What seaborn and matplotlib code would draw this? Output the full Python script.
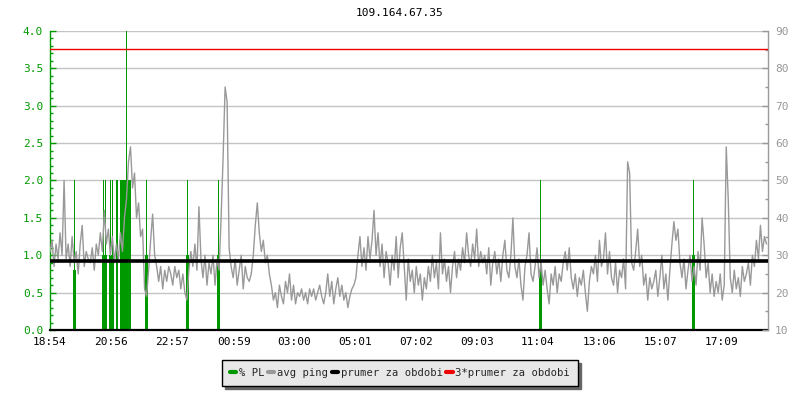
import numpy as np
import pandas as pd
import matplotlib
matplotlib.use("Agg")
import matplotlib.pyplot as plt
import seaborn as sns
from matplotlib.ticker import MultipleLocator, FormatStrFormatter
from matplotlib.lines import Line2D

# ---------------- data ----------------
title = "109.164.67.35"
tick_minutes = [0, 122, 243, 365, 486, 607, 728, 849, 970, 1092, 1213, 1335]
tick_labels = ["18:54", "20:56", "22:57", "00:59", "03:00", "05:01",
               "07:02", "09:03", "11:04", "13:06", "15:07", "17:09"]
x_end_minutes = 1427
sample_step_min = 4

# average ping in ms (right axis), one sample every 4 minutes from 18:54
avg_ping = [
    31, 34, 27, 33, 29, 36, 30, 50, 29, 33,
    27, 35, 28, 31, 25, 33, 38, 27, 31, 29,
    28, 32, 26, 33, 30, 36, 31, 42, 33, 37,
    30, 35, 28, 33, 29, 36, 31, 40, 45, 55,
    59, 48, 52, 40, 44, 35, 37, 21, 19, 26,
    34, 41, 30, 27, 23, 27, 21, 26, 23, 27,
    25, 22, 27, 24, 26, 21, 25, 20, 18, 26,
    31, 27, 33, 26, 43, 29, 24, 30, 22, 28,
    25, 30, 22, 29, 26, 40, 56, 75, 71, 32,
    27, 24, 29, 22, 26, 30, 21, 27, 24, 23,
    25, 30, 38, 44, 36, 31, 34, 28, 30, 25,
    22, 18, 20, 16, 22, 19, 17, 23, 20, 25,
    18, 22, 17, 20, 19, 21, 18, 20, 17, 21,
    19, 21, 18, 20, 22, 19, 17, 20, 25, 19,
    23, 17, 21, 24, 19, 22, 18, 20, 16, 19,
    21, 22, 24, 30, 35, 27, 32, 26, 35, 29,
    34, 42, 30, 36, 27, 33, 24, 31, 28, 22,
    30, 26, 35, 24, 32, 36, 27, 18, 29, 23,
    26, 20, 27, 22, 25, 18, 24, 21, 27, 23,
    30, 24, 28, 21, 36, 25, 29, 23, 27, 20,
    27, 31, 24, 29, 26, 32, 28, 36, 30, 27,
    33, 29, 37, 27, 31, 28, 30, 25, 32, 22,
    28, 31, 25, 29, 23, 30, 34, 26, 24, 30,
    40, 27, 24, 29, 22, 18, 27, 30, 36, 25,
    23, 27, 32, 24, 28, 22, 26, 21, 17, 25,
    22, 27, 20, 25, 23, 28, 31, 26, 32, 24,
    21, 25, 19, 24, 22, 26, 20, 15, 23, 27,
    25, 30, 23, 34, 27, 29, 36, 25, 31, 24,
    22, 28, 20, 26, 24, 29, 21, 55, 52, 28,
    26, 31, 37, 27, 30, 22, 25, 18, 24, 21,
    23, 26, 19, 24, 30, 21, 25, 18, 26, 33,
    39, 34, 37, 28, 24, 29, 21, 26, 30, 23,
    27, 22, 31, 26, 40, 33, 24, 28, 20, 25,
    19, 23, 20, 25, 18, 22, 59, 45, 24, 20,
    26, 21, 24, 19, 27, 23, 25, 28, 22, 30,
    27, 34, 29, 38, 31, 35, 33,
]

# packet loss (% PL, left axis): minutes since 18:54 and value
pl_minutes = [47, 49, 51,
              105, 107, 109, 111, 113,
              119, 121, 123, 125, 127,
              133, 135,
              141, 143, 145, 147, 149, 151, 153, 155, 157, 159,
              189, 191, 193,
              272, 274, 276,
              332, 334, 336,
              972, 974, 976,
              1276, 1278, 1280]
pl_values = [0.8, 2.0, 0.8,
             1.0, 2.0, 1.0, 2.0, 1.0,
             1.0, 2.0, 1.0, 2.0, 1.0,
             2.0, 2.0,
             2.0, 2.0, 2.0, 2.0, 2.0, 2.0, 4.0, 2.0, 2.0, 2.0,
             1.0, 2.0, 1.0,
             1.0, 2.0, 1.0,
             1.0, 2.0, 1.0,
             0.8, 2.0, 0.8,
             1.0, 2.0, 1.0]

mean_ping = 28.4          # "prumer za obdobi"
legend_labels = ["% PL", "avg ping", "prumer za obdobi", "3*prumer za obdobi"]

# ---------------- style ----------------
GREEN = "#009900"
GRAY = "#999999"
RED = "#ee0000"

sns.set_style("white")
plt.rcParams['font.family'] = ['DejaVu Sans Mono', 'DejaVu Sans']
FS = 8

ping_df = pd.DataFrame({
    "minute": np.arange(len(avg_ping)) * sample_step_min,
    "ping": avg_ping,
})

fig = plt.figure(figsize=(8, 4), dpi=100)
ax = fig.add_axes([50 / 800, 1 - 330 / 400, 718 / 800, 299 / 400])
ax2 = ax.twinx()

# grid on left axis
ax.set_axisbelow(True)
ax.yaxis.grid(True, color="#c4c4c4", linewidth=1)
ax.xaxis.grid(False)

# packet loss bars
ax.bar(pl_minutes, pl_values, width=2.0, color=GREEN, edgecolor="none",
       linewidth=0, zorder=2, antialiased=False)

# avg ping line
sns.lineplot(data=ping_df, x="minute", y="ping", ax=ax2, color=GRAY,
             linewidth=1, estimator=None, legend=False)
ax2.axhline(mean_ping, color="black", linewidth=2.6, zorder=4)
ax2.axhline(3 * mean_ping, color=RED, linewidth=1, zorder=4)

# limits
ax.set_xlim(0, x_end_minutes)
ax.set_ylim(0, 4.0)
ax2.set_ylim(10, 90)
ax.set_xlabel("")
ax2.set_xlabel("")
ax.set_ylabel("")
ax2.set_ylabel("")

# x ticks
ax.set_xticks(tick_minutes)
ax.set_xticklabels(tick_labels)
ax.tick_params(axis="x", direction="in", length=4, width=1, color="black",
               labelsize=FS, labelcolor="black", pad=5)

# left y ticks
ax.yaxis.set_major_locator(MultipleLocator(0.5))
ax.yaxis.set_minor_locator(MultipleLocator(0.1))
ax.yaxis.set_major_formatter(FormatStrFormatter("%.1f"))
ax.tick_params(axis="y", which="major", direction="in", length=4, width=1,
               color=GREEN, labelcolor=GREEN, labelsize=FS, pad=5)
ax.tick_params(axis="y", which="minor", direction="in", length=2.5, width=1,
               color=GREEN)

# right y ticks
ax2.yaxis.set_major_locator(MultipleLocator(10))
ax2.yaxis.set_minor_locator(MultipleLocator(5))
ax2.tick_params(axis="y", which="major", direction="in", length=4, width=1,
                color=GRAY, labelcolor=GRAY, labelsize=FS, pad=5)
ax2.tick_params(axis="y", which="minor", direction="in", length=2.5, width=1,
                color=GRAY)

# spines
for s in ["top", "right"]:
    ax.spines[s].set_visible(False)
ax.spines["left"].set_color(GREEN)
ax.spines["left"].set_linewidth(1)
ax.spines["bottom"].set_color("black")
ax.spines["bottom"].set_linewidth(1.6)
for s in ["top", "left", "bottom"]:
    ax2.spines[s].set_visible(False)
ax2.spines["right"].set_color(GRAY)
ax2.spines["right"].set_linewidth(1)

# title
fig.text(0.5, 1 - 13 / 400, title, ha="center", va="center", fontsize=FS,
         color="black")

# legend
handles = [Line2D([0], [0], color=c, linewidth=3)
           for c in [GREEN, GRAY, "black", RED]]
leg = fig.legend(handles, legend_labels, loc="center",
                 bbox_to_anchor=(0.5, 1 - 373 / 400), ncol=4, frameon=True,
                 fancybox=False, shadow={"color": "#666666", "alpha": 1},
                 edgecolor="black", facecolor="#e8e8e8", framealpha=1,
                 handlelength=0.6, handletextpad=0.25, columnspacing=0.35,
                 fontsize=7.6, borderpad=0.75, borderaxespad=0)
leg.get_frame().set_linewidth(1)

fig.savefig("out.png", dpi=100)
